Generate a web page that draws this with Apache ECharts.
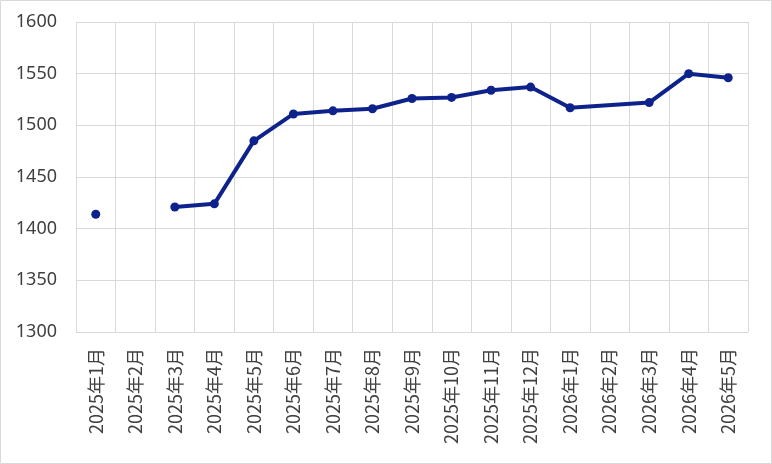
<!DOCTYPE html>
<html>
<head>
<meta charset="utf-8">
<script src="https://cdn.jsdelivr.net/npm/echarts@6/dist/echarts.min.js"></script>
<style>
  html, body { margin: 0; padding: 0; background: #fff; }
  #chart { width: 772px; height: 464px; }
</style>
</head>
<body>
<div id="chart"></div>
<script>
"use strict";

var months = [
  "2025年1月", "2025年2月", "2025年3月", "2025年4月", "2025年5月", "2025年6月",
  "2025年7月", "2025年8月", "2025年9月", "2025年10月", "2025年11月", "2025年12月",
  "2026年1月", "2026年2月", "2026年3月", "2026年4月", "2026年5月"
];
var values = [
  1414, null, 1421, 1424, 1485, 1511,
  1514, 1516, 1526, 1527, 1534, 1537,
  1517, null, 1522, 1550, 1546
];
var yTicks = [1300, 1350, 1400, 1450, 1500, 1550, 1600];

// first point stands alone, later gap (2026年2月) is bridged
var firstPart = values.map(function (v, i) { return i < 2 ? v : null; });
var restPart = values.map(function (v, i) { return i >= 2 ? v : null; });

var lineColor = "#0e228c";
var gridColor = "#d9d9d9";
var textColor = "#404040";
var font = "'Noto Sans CJK SC', 'Noto Sans', sans-serif";

var chart = echarts.init(document.getElementById("chart"));

chart.setOption({
  animation: false,
  graphic: [
    {
      type: "rect",
      shape: { x: 0.5, y: 0.5, width: 771, height: 463 },
      style: { fill: null, stroke: gridColor, lineWidth: 1 },
    },
  ],
  grid: { left: 76, right: 24, top: 22, bottom: 132 },
  xAxis: {
    type: "category",
    data: months,
    boundaryGap: true,
    axisLine: { lineStyle: { color: gridColor } },
    axisTick: { show: false },
    splitLine: { show: true, lineStyle: { color: gridColor } },
    axisLabel: {
      rotate: 90,
      margin: 16,
      interval: 0,
      color: textColor,
      fontSize: 18,
      fontFamily: font,
    },
  },
  yAxis: {
    type: "value",
    min: yTicks[0],
    max: yTicks[yTicks.length - 1],
    interval: 50,
    axisLine: { show: false },
    axisTick: { show: false },
    splitLine: { lineStyle: { color: gridColor } },
    axisLabel: {
      margin: 19,
      color: textColor,
      fontSize: 18,
      fontFamily: "'Noto Sans', sans-serif",
      formatter: function (value) {
        return String(value);
      },
    },
  },
  series: [
    {
      type: "line",
      data: firstPart,
      connectNulls: false,
      symbol: "circle",
      symbolSize: 9,
      itemStyle: { color: lineColor },
      lineStyle: { color: lineColor, width: 4 },
    },
    {
      type: "line",
      data: restPart,
      connectNulls: true,
      symbol: "circle",
      symbolSize: 9,
      itemStyle: { color: lineColor },
      lineStyle: { color: lineColor, width: 4 },
    },
  ],
});
</script>
</body>
</html>
